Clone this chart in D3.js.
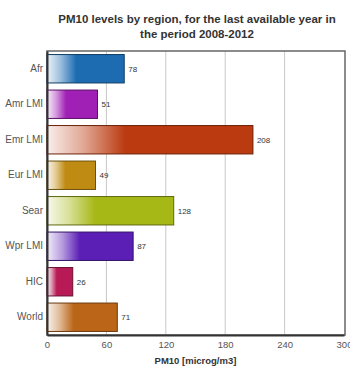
<!DOCTYPE html>
<html>
<head>
<meta charset="utf-8">
<script src="https://cdn.jsdelivr.net/npm/d3@7"></script>
<style>
  body { margin: 0; background: #fff; }
  text { font-family: "Liberation Sans", Arial, sans-serif; }
</style>
</head>
<body>
<div id="chart"></div>
<script>
// data
const regions = ["Afr", "Amr LMI", "Emr LMI", "Eur LMI", "Sear", "Wpr LMI", "HIC", "World"]
const pm10 = [78, 51, 208, 49, 128, 87, 26, 71]
const barColors = ["#1d6cb1", "#a01fb5", "#bb3a10", "#c08b12", "#a6b816", "#5b1fb5", "#b81a55", "#bb6519"]
const xTicks = [0, 60, 120, 180, 240, 300]
const titleLines = ["PM10 levels by region, for the last available year in", "the period 2008-2012"]
const xTitle = "PM10 [microg/m3]"

const width = 350, height = 376
const margin = {top: 51, right: 6, bottom: 41, left: 47}

const svg = d3.select("#chart")
  .append("svg")
    .attr("width", width)
    .attr("height", height)

const x = d3.scaleLinear()
  .domain([0, 300])
  .range([margin.left, width - margin.right])

const y = d3.scaleBand()
  .domain(regions)
  .range([margin.top, height - margin.bottom])
  .paddingInner(0.2)
  .paddingOuter(0.1)

// gradients, one per bar
const defs = svg.append("defs")
regions.forEach((r, i) => {
  const g = defs.append("linearGradient")
    .attr("id", "grad" + i)
    .attr("x1", "0%").attr("x2", "100%")
    .attr("y1", "0%").attr("y2", "0%")
  g.append("stop").attr("offset", "0%").attr("stop-color", d3.interpolateRgb("#fff", barColors[i])(0.08))
  g.append("stop").attr("offset", "18%").attr("stop-color", d3.interpolateRgb("#fff", barColors[i])(0.45))
  g.append("stop").attr("offset", "38%").attr("stop-color", barColors[i])
  g.append("stop").attr("offset", "100%").attr("stop-color", barColors[i])
})

// grid lines
svg.append("g")
  .selectAll("line")
  .data(xTicks.slice(1, -1))
  .join("line")
    .attr("x1", d => x(d)).attr("x2", d => x(d))
    .attr("y1", margin.top).attr("y2", height - margin.bottom)
    .attr("stroke", "#c8c8c8")
    .attr("stroke-width", 1)

// frame
svg.append("rect")
  .attr("x", margin.left)
  .attr("y", margin.top)
  .attr("width", x(300) + 1 - margin.left)
  .attr("height", height - margin.bottom - margin.top)
  .attr("fill", "none")
  .attr("stroke", "#666")
  .attr("stroke-width", 1.5)

// bars
svg.append("g")
  .selectAll("rect")
  .data(regions)
  .join("rect")
    .attr("x", x(0))
    .attr("y", d => y(d))
    .attr("width", (d, i) => x(pm10[i]) - x(0))
    .attr("height", y.bandwidth())
    .attr("fill", (d, i) => `url(#grad${i})`)
    .attr("stroke", (d, i) => d3.color(barColors[i]).darker(1.6))
    .attr("stroke-width", 1)

// value labels
svg.append("g")
  .selectAll("text")
  .data(regions)
  .join("text")
    .attr("x", (d, i) => x(pm10[i]) + 4)
    .attr("y", d => y(d) + y.bandwidth() / 2)
    .attr("dy", "0.35em")
    .style("font-size", "8px")
    .style("fill", "#333")
    .text((d, i) => pm10[i])

// axes
svg.append("g")
  .attr("transform", `translate(0,${height - margin.bottom})`)
  .call(d3.axisBottom(x).tickValues(xTicks).tickSize(0).tickPadding(6))
  .call(g => g.select(".domain").attr("stroke", "#333").attr("stroke-width", 2))
  .selectAll("text")
    .style("font-family", "Liberation Sans, Arial, sans-serif")
    .style("font-size", "9.5px")
    .style("fill", "#555")

svg.append("g")
  .attr("transform", `translate(${margin.left},0)`)
  .call(d3.axisLeft(y).tickSize(0).tickPadding(4))
  .call(g => g.select(".domain").attr("stroke", "#333").attr("stroke-width", 2))
  .selectAll("text")
    .style("font-family", "Liberation Sans, Arial, sans-serif")
    .style("font-size", "10px")
    .style("fill", "#555")

// axis title
svg.append("text")
  .attr("x", (margin.left + x(300)) / 2)
  .attr("y", 364)
  .attr("text-anchor", "middle")
  .style("font-size", "9.5px")
  .style("font-weight", "bold")
  .style("fill", "#333")
  .text(xTitle)

// title
svg.append("g")
  .selectAll("text")
  .data(titleLines)
  .join("text")
    .attr("x", 197)
    .attr("y", (d, i) => 23 + i * 14.5)
    .attr("text-anchor", "middle")
    .style("font-size", "11.5px")
    .style("font-weight", "bold")
    .style("fill", "#333")
    .text(d => d)
</script>
</body>
</html>
